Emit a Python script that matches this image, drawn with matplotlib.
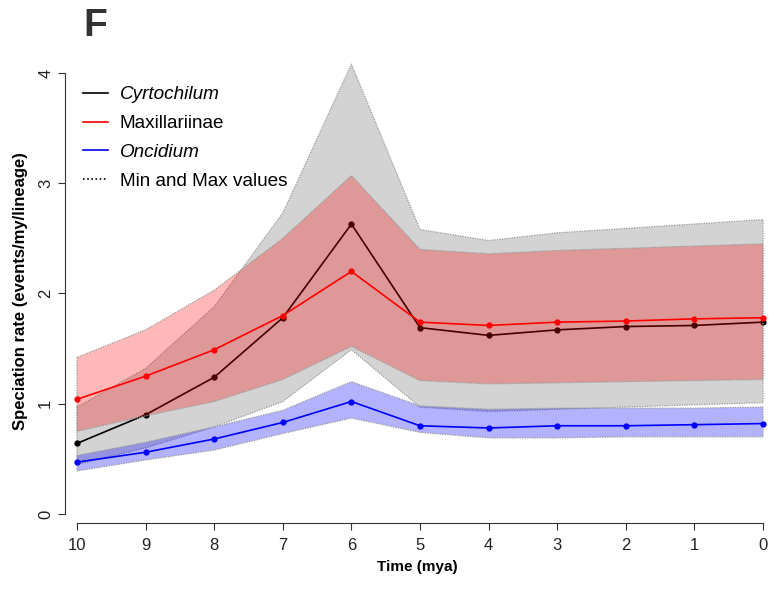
import matplotlib.pyplot as plt
import numpy as np

plt.rcParams['font.family'] = ['Liberation Sans', 'DejaVu Sans']

time = [10, 9, 8, 7, 6, 5, 4, 3, 2, 1, 0]

# mean rates
cyrto = [0.64, 0.90, 1.24, 1.78, 2.63, 1.69, 1.62, 1.67, 1.70, 1.71, 1.74]
maxil = [1.04, 1.25, 1.49, 1.80, 2.20, 1.74, 1.71, 1.74, 1.75, 1.77, 1.78]
oncid = [0.47, 0.56, 0.68, 0.83, 1.02, 0.80, 0.78, 0.80, 0.80, 0.81, 0.82]

# min / max envelopes
cyrto_min = [0.45, 0.60, 0.79, 1.02, 1.49, 0.97, 0.93, 0.95, 0.97, 0.99, 1.01]
cyrto_max = [0.97, 1.32, 1.88, 2.73, 4.08, 2.58, 2.48, 2.55, 2.59, 2.63, 2.67]
maxil_min = [0.75, 0.89, 1.02, 1.22, 1.52, 1.21, 1.18, 1.19, 1.20, 1.21, 1.22]
maxil_max = [1.42, 1.67, 2.03, 2.50, 3.07, 2.40, 2.36, 2.39, 2.41, 2.43, 2.45]
oncid_min = [0.39, 0.49, 0.58, 0.73, 0.87, 0.74, 0.69, 0.69, 0.70, 0.70, 0.70]
oncid_max = [0.53, 0.65, 0.79, 0.94, 1.20, 0.98, 0.95, 0.96, 0.96, 0.96, 0.97]

fig = plt.figure(figsize=(7.75, 5.92), dpi=100)
ax = fig.add_axes([65/775, (592-523)/592, (770-65)/775, (523-60)/592])

edge = dict(edgecolor='#9a9a9a', linestyle=(0, (1, 1)), linewidth=0.9)
ax.fill_between(time, cyrto_min, cyrto_max, facecolor='#d3d3d3', zorder=1, **edge)
ax.plot(time, cyrto, color='black', lw=1.2, marker='o', ms=3.5, zorder=2, clip_on=False)
ax.fill_between(time, maxil_min, maxil_max, facecolor=(1, 0, 0, 0.28), zorder=3, **edge)
ax.plot(time, maxil, color='red', lw=1.2, marker='o', ms=3.5, zorder=4, clip_on=False)
ax.fill_between(time, oncid_min, oncid_max, facecolor=(0, 0, 1, 0.3), zorder=5, **edge)
ax.plot(time, oncid, color='blue', lw=1.2, marker='o', ms=3.5, zorder=6, clip_on=False)

ax.set_xlim(10.175, -0.102)
ax.set_ylim(-0.082, 4.118)
for s in ['top', 'right']:
    ax.spines[s].set_visible(False)
ax.spines['left'].set_bounds(0, 4)
ax.spines['bottom'].set_bounds(10, 0)
ax.spines['left'].set_color('#333333')
ax.spines['bottom'].set_color('#333333')
ax.set_xticks(time)
ax.set_yticks([0, 1, 2, 3, 4])
ax.tick_params(axis='both', length=5, color='#333333', labelsize=12, labelcolor='#222222')
ax.tick_params(axis='x', pad=6)
for lab in ax.get_yticklabels():
    lab.set_rotation(90)
    lab.set_va('center')
ax.set_xlabel('Time (mya)', fontsize=11, fontweight='bold', labelpad=5)
ax.set_ylabel('Speciation rate (events/my/lineage)', fontsize=12, fontweight='bold', labelpad=7)

handles = [
    plt.Line2D([], [], color='black', lw=1.2),
    plt.Line2D([], [], color='red', lw=1.2),
    plt.Line2D([], [], color='blue', lw=1.2),
    plt.Line2D([], [], color='black', lw=1.2, linestyle=(0, (1, 1.5))),
]
labels = ['Cyrtochilum', 'Maxillariinae', 'Oncidium', 'Min and Max values']
leg = fig.legend(handles, labels, loc='upper left', bbox_to_anchor=(83/775, 1 - 86/592),
                 frameon=False, fontsize=13.6, handlelength=1.3, handletextpad=0.65,
                 labelspacing=0.62, borderpad=0, borderaxespad=0)
leg.get_texts()[0].set_fontstyle('italic')
leg.get_texts()[2].set_fontstyle('italic')

fig.text(95/775, 1 - 26/592, 'F', fontsize=28, fontweight='bold', color='#333333',
         ha='center', va='center')

fig.savefig('out.png', dpi=100)
